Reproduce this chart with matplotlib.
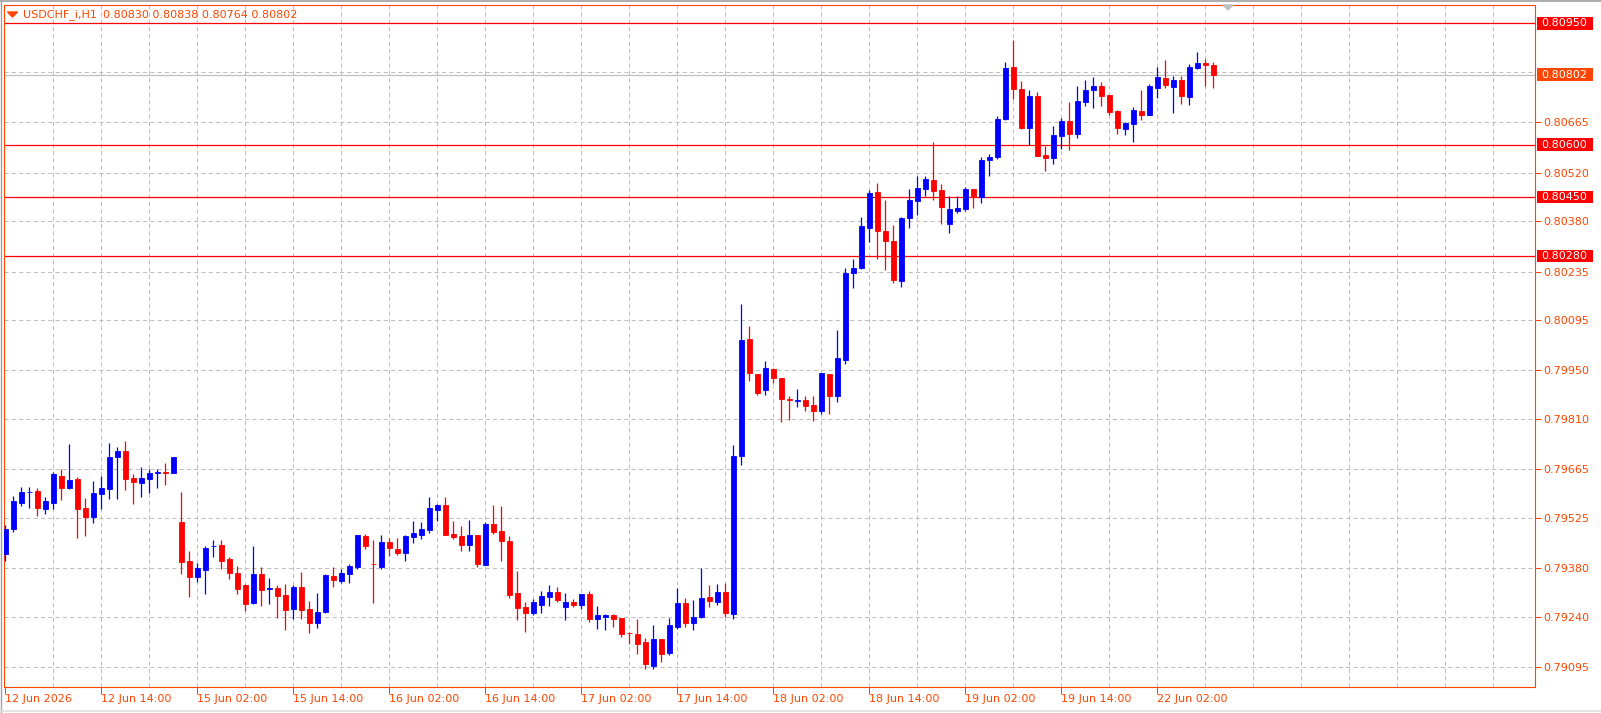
import matplotlib
matplotlib.use("Agg")
import matplotlib.pyplot as plt
from matplotlib.patches import Rectangle, Polygon
from matplotlib.lines import Line2D
from matplotlib.transforms import blended_transform_factory

# --- data (USDCHF_i, H1) ---
symbol = "USDCHF_i,H1"

opens = [
    0.79422, 0.79494, 0.79569, 0.79599, 0.79603, 0.79552, 0.79569, 0.79646, 0.79612, 0.79637,
    0.79554, 0.79529, 0.79595, 0.79610, 0.79702, 0.79718, 0.79640, 0.79627, 0.79638, 0.79655,
    0.79657, 0.79655, 0.79514, 0.79401, 0.79356, 0.79376, 0.79443, 0.79447, 0.79407, 0.79367,
    0.79332, 0.79281, 0.79364, 0.79320, 0.79323, 0.79303, 0.79264, 0.79326, 0.79263, 0.79223,
    0.79253, 0.79358, 0.79345, 0.79365, 0.79385, 0.79473, 0.79394, 0.79385, 0.79456, 0.79436,
    0.79425, 0.79471, 0.79476, 0.79491, 0.79548, 0.79562, 0.79479, 0.79473, 0.79447, 0.79476,
    0.79390, 0.79508, 0.79488, 0.79459, 0.79309, 0.79270, 0.79251, 0.79275, 0.79298, 0.79312,
    0.79270, 0.79283, 0.79274, 0.79306, 0.79234, 0.79240, 0.79246, 0.79236, 0.79195, 0.79191,
    0.79168, 0.79100, 0.79176, 0.79135, 0.79212, 0.79280, 0.79223, 0.79240, 0.79298, 0.79283,
    0.79312, 0.79249, 0.79704, 0.80040, 0.79940, 0.79895, 0.79954, 0.79928, 0.79867, 0.79862,
    0.79865, 0.79850, 0.79832, 0.79940, 0.79876, 0.79981, 0.80232, 0.80244, 0.80361, 0.80464,
    0.80352, 0.80323, 0.80209, 0.80390, 0.80439, 0.80474, 0.80499, 0.80470, 0.80373, 0.80410,
    0.80416, 0.80473, 0.80450, 0.80555, 0.80566, 0.80674, 0.80824, 0.80762, 0.80649, 0.80741,
    0.80571, 0.80563, 0.80626, 0.80669, 0.80632, 0.80724, 0.80757, 0.80769, 0.80742, 0.80696,
    0.80646, 0.80660, 0.80697, 0.80687, 0.80765, 0.80792, 0.80767, 0.80787, 0.80739, 0.80822,
    0.80836, 0.80830,
]
highs = [
    0.79505, 0.79588, 0.79614, 0.79614, 0.79611, 0.79586, 0.79658, 0.79666, 0.79738, 0.79642,
    0.79583, 0.79632, 0.79646, 0.79741, 0.79730, 0.79747, 0.79652, 0.79672, 0.79666, 0.79666,
    0.79684, 0.79701, 0.79600, 0.79430, 0.79395, 0.79444, 0.79462, 0.79462, 0.79413, 0.79387,
    0.79335, 0.79444, 0.79384, 0.79352, 0.79332, 0.79335, 0.79332, 0.79370, 0.79286, 0.79309,
    0.79364, 0.79384, 0.79378, 0.79393, 0.79476, 0.79479, 0.79462, 0.79476, 0.79468, 0.79468,
    0.79476, 0.79516, 0.79514, 0.79586, 0.79565, 0.79586, 0.79516, 0.79502, 0.79519, 0.79476,
    0.79514, 0.79562, 0.79560, 0.79473, 0.79372, 0.79283, 0.79292, 0.79315, 0.79332, 0.79326,
    0.79309, 0.79292, 0.79306, 0.79315, 0.79272, 0.79249, 0.79249, 0.79237, 0.79197, 0.79234,
    0.79179, 0.79217, 0.79177, 0.79237, 0.79323, 0.79295, 0.79289, 0.79381, 0.79332, 0.79335,
    0.79338, 0.79735, 0.80141, 0.80078, 0.79941, 0.79977, 0.79957, 0.79929, 0.79876, 0.79897,
    0.79876, 0.79876, 0.79943, 0.79941, 0.80067, 0.80245, 0.80271, 0.80392, 0.80470, 0.80490,
    0.80441, 0.80369, 0.80392, 0.80473, 0.80510, 0.80510, 0.80608, 0.80487, 0.80453, 0.80453,
    0.80478, 0.80474, 0.80565, 0.80574, 0.80683, 0.80839, 0.80902, 0.80784, 0.80758, 0.80752,
    0.80597, 0.80654, 0.80677, 0.80723, 0.80769, 0.80787, 0.80795, 0.80781, 0.80743, 0.80700,
    0.80666, 0.80709, 0.80758, 0.80775, 0.80824, 0.80844, 0.80798, 0.80798, 0.80833, 0.80867,
    0.80847, 0.80838,
]
lows = [
    0.79402, 0.79486, 0.79560, 0.79555, 0.79532, 0.79537, 0.79550, 0.79577, 0.79609, 0.79468,
    0.79474, 0.79512, 0.79550, 0.79581, 0.79581, 0.79607, 0.79566, 0.79586, 0.79598, 0.79612,
    0.79621, 0.79655, 0.79364, 0.79298, 0.79342, 0.79307, 0.79414, 0.79379, 0.79350, 0.79307,
    0.79257, 0.79278, 0.79272, 0.79278, 0.79238, 0.79203, 0.79235, 0.79235, 0.79195, 0.79209,
    0.79252, 0.79327, 0.79339, 0.79339, 0.79379, 0.79437, 0.79281, 0.79379, 0.79416, 0.79419,
    0.79402, 0.79454, 0.79465, 0.79482, 0.79516, 0.79476, 0.79465, 0.79430, 0.79430, 0.79384,
    0.79390, 0.79479, 0.79401, 0.79295, 0.79231, 0.79197, 0.79246, 0.79251, 0.79272, 0.79283,
    0.79231, 0.79270, 0.79263, 0.79225, 0.79205, 0.79202, 0.79211, 0.79182, 0.79161, 0.79132,
    0.79090, 0.79090, 0.79111, 0.79130, 0.79206, 0.79211, 0.79202, 0.79237, 0.79270, 0.79275,
    0.79240, 0.79235, 0.79678, 0.79921, 0.79879, 0.79880, 0.79915, 0.79802, 0.79808, 0.79846,
    0.79834, 0.79805, 0.79826, 0.79826, 0.79860, 0.79970, 0.80188, 0.80241, 0.80321, 0.80272,
    0.80240, 0.80203, 0.80190, 0.80361, 0.80397, 0.80453, 0.80442, 0.80373, 0.80347, 0.80404,
    0.80410, 0.80419, 0.80431, 0.80511, 0.80560, 0.80672, 0.80732, 0.80646, 0.80600, 0.80568,
    0.80525, 0.80546, 0.80589, 0.80586, 0.80620, 0.80713, 0.80707, 0.80713, 0.80687, 0.80632,
    0.80629, 0.80609, 0.80672, 0.80686, 0.80736, 0.80765, 0.80693, 0.80718, 0.80716, 0.80817,
    0.80770, 0.80764,
]
closes = [
    0.79493, 0.79574, 0.79600, 0.79600, 0.79555, 0.79574, 0.79652, 0.79612, 0.79635, 0.79552,
    0.79529, 0.79597, 0.79611, 0.79701, 0.79718, 0.79638, 0.79630, 0.79640, 0.79655, 0.79657,
    0.79655, 0.79701, 0.79399, 0.79356, 0.79381, 0.79439, 0.79444, 0.79402, 0.79367, 0.79321,
    0.79278, 0.79364, 0.79319, 0.79323, 0.79301, 0.79261, 0.79326, 0.79261, 0.79223, 0.79254,
    0.79361, 0.79347, 0.79367, 0.79387, 0.79476, 0.79445, 0.79393, 0.79456, 0.79438, 0.79425,
    0.79473, 0.79482, 0.79493, 0.79554, 0.79562, 0.79476, 0.79470, 0.79447, 0.79476, 0.79393,
    0.79508, 0.79485, 0.79459, 0.79303, 0.79267, 0.79251, 0.79283, 0.79300, 0.79312, 0.79289,
    0.79283, 0.79274, 0.79306, 0.79234, 0.79246, 0.79246, 0.79234, 0.79191, 0.79194, 0.79161,
    0.79105, 0.79176, 0.79134, 0.79217, 0.79280, 0.79223, 0.79240, 0.79295, 0.79286, 0.79312,
    0.79251, 0.79704, 0.80038, 0.79943, 0.79886, 0.79957, 0.79929, 0.79869, 0.79865, 0.79864,
    0.79849, 0.79834, 0.79943, 0.79876, 0.79986, 0.80231, 0.80245, 0.80366, 0.80461, 0.80353,
    0.80323, 0.80211, 0.80389, 0.80441, 0.80476, 0.80502, 0.80468, 0.80421, 0.80415, 0.80418,
    0.80473, 0.80452, 0.80556, 0.80566, 0.80674, 0.80821, 0.80761, 0.80649, 0.80741, 0.80569,
    0.80563, 0.80628, 0.80669, 0.80632, 0.80726, 0.80758, 0.80769, 0.80741, 0.80695, 0.80649,
    0.80663, 0.80700, 0.80687, 0.80769, 0.80795, 0.80773, 0.80787, 0.80741, 0.80824, 0.80836,
    0.80831, 0.80802,
]

time_labels = ["12 Jun 2026", "12 Jun 14:00", "15 Jun 02:00", "15 Jun 14:00",
               "16 Jun 02:00", "16 Jun 14:00", "17 Jun 02:00", "17 Jun 14:00",
               "18 Jun 02:00", "18 Jun 14:00", "19 Jun 02:00", "19 Jun 14:00",
               "22 Jun 02:00"]
label_step = 12   # bars between time labels
grid_step = 6     # bars between vertical grid lines

price_ticks = [0.80665, 0.80520, 0.80380, 0.80235, 0.80095, 0.79950,
               0.79810, 0.79665, 0.79525, 0.79380, 0.79240, 0.79095]
grid_prices = [0.80810] + price_ticks
level_lines = [0.80950, 0.80600, 0.80450, 0.80280]

# --- style ---
BULL = "#0000FF"
BEAR = "#FF0000"
ORANGE = "#FF4500"
GRID = "#C0C0C0"
W, H = 1601, 713


def fx(px):
    return px / W


def fy(py):
    return 1 - py / H


fig = plt.figure(figsize=(W / 100, H / 100), dpi=100)
fig.patch.set_facecolor("white")
ax = fig.add_axes([fx(4), fy(687), fx(1535) - fx(4), fy(4.5) - fy(687)])
ax.set_facecolor("white")

n = len(opens)
ax.set_xlim(-0.1875, 191.19)
ax.set_ylim(0.790383, 0.810041)

# grid
for i in range(grid_step, 192, grid_step):
    ax.axvline(i, color=GRID, lw=0.75, ls=(0, (4, 3)), zorder=1)
for p in grid_prices:
    ax.axhline(p, color=GRID, lw=0.75, ls=(0, (4, 3)), zorder=1)

# bid line and levels
ax.axhline(closes[-1], color=GRID, lw=0.9, zorder=2)
for lv in level_lines:
    ax.axhline(lv, color="#FF0000", lw=0.9, zorder=2)

# candles
xs = list(range(n))
colors = [BULL if c >= o else BEAR for o, c in zip(opens, closes)]
ax.vlines(xs, lows, highs, colors=colors, lw=0.9, zorder=3)
bottoms = [min(o, c) for o, c in zip(opens, closes)]
heights = [abs(c - o) for o, c in zip(opens, closes)]
ax.bar(xs, heights, bottom=bottoms, width=0.55, color=colors,
       edgecolor=colors, linewidth=0.6, zorder=4)

# axes frame and ticks
for sp in ax.spines.values():
    sp.set_color(ORANGE)
    sp.set_linewidth(0.8)
ax.yaxis.tick_right()
ax.set_yticks(price_ticks)
ax.set_yticklabels([f"{v:.5f}" for v in price_ticks])
ax.tick_params(axis="y", colors=ORANGE, length=4, width=0.75, pad=2, labelsize=8)
ax.set_xticks(list(range(0, n, label_step)))
ax.set_xticklabels(time_labels, ha="left")
ax.tick_params(axis="x", colors=ORANGE, length=5, width=0.75, pad=0, labelsize=8)

# price boxes on the right
trans = blended_transform_factory(fig.transFigure, ax.transData)
box_h = 12.6 * (0.810041 - 0.790383) / 682.5


def price_box(price, face):
    ax.add_patch(Rectangle((fx(1537), price - box_h / 2), fx(1593) - fx(1537), box_h,
                           transform=trans, facecolor=face, edgecolor="none",
                           clip_on=False, zorder=10))
    ax.text(fx(1541.5), price, f"{price:.5f}", transform=trans, color="white",
            fontsize=8, va="center", ha="left", clip_on=False, zorder=11)


for lv in level_lines:
    price_box(lv, "#FF0000")
price_box(closes[-1], ORANGE)

# header
fig.add_artist(Polygon([[fx(7.5), fy(12)], [fx(17.5), fy(12)], [fx(12.5), fy(17)]],
                       closed=True, color=ORANGE, transform=fig.transFigure))
fig.text(fx(23), fy(14.5), symbol, color=ORANGE, fontsize=8, va="center", ha="left")
fig.text(fx(103), fy(14.5),
         f"{opens[-1]:.5f} {highs[-1]:.5f} {lows[-1]:.5f} {closes[-1]:.5f}",
         color=ORANGE, fontsize=8, va="center", ha="left")

# chart shift marker
fig.add_artist(Polygon([[fx(1223), fy(5)], [fx(1233), fy(5)], [fx(1228), fy(10)]],
                       closed=True, color=GRID, transform=fig.transFigure, zorder=20))

# window edges
fig.add_artist(Line2D([0, 1], [fy(0.7), fy(0.7)], color="#A0A0A0", lw=1.2,
                      transform=fig.transFigure))
fig.add_artist(Line2D([fx(0.6), fx(0.6)], [0, 1], color="#A0A0A0", lw=1.0,
                      transform=fig.transFigure))
fig.add_artist(Line2D([0, 1], [fy(711), fy(711)], color="#E0E0E0", lw=1.2,
                      transform=fig.transFigure))

fig.savefig("out.png", dpi=100)
